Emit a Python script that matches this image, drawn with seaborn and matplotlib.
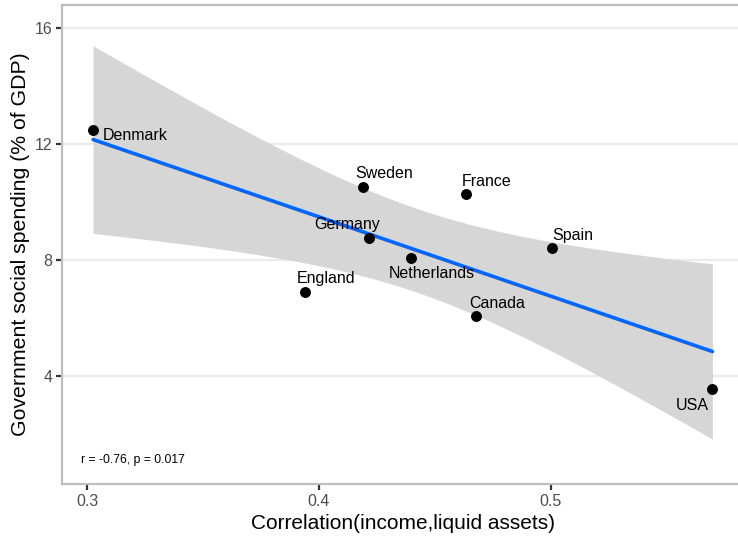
import numpy as np
import pandas as pd
import matplotlib
matplotlib.use("Agg")
import matplotlib.pyplot as plt
import seaborn as sns

# Country-level data
countries = ["Denmark", "Sweden", "France", "Germany", "Netherlands",
             "Spain", "England", "Canada", "USA"]
corr_income_liquid = [0.3026, 0.419, 0.4634, 0.4216, 0.4397,
                      0.5004, 0.394, 0.4677, 0.5698]
social_spending = [12.48, 10.52, 10.28, 8.76, 8.07,
                   8.41, 6.90, 6.07, 3.55]

x_ticks = [0.3, 0.4, 0.5]
y_ticks = [4, 8, 12, 16]
stat_label = "r = -0.76, p = 0.017"

df = pd.DataFrame({"country": countries,
                   "corr": corr_income_liquid,
                   "spend": social_spending})

# label placement (pixel offsets from each point, and alignment)
label_style = {
    "Denmark": (10, -5, "left"),
    "Sweden": (21, 13, "center"),
    "France": (21, 12, "center"),
    "Germany": (-22, 13, "center"),
    "Netherlands": (21, -16, "center"),
    "Spain": (21, 13, "center"),
    "England": (21, 13, "center"),
    "Canada": (21, 12, "center"),
    "USA": (-20, -16, "center"),
}

sns.set_theme(style="white")
plt.rcParams["font.family"] = ["Liberation Sans", "DejaVu Sans"]

fig = plt.figure(figsize=(7.38, 5.37), dpi=100)
ax = fig.add_axes([62 / 738, 53 / 537, 682 / 738, 479 / 537])

# linear fit with 95% confidence band
x = df["corr"].to_numpy()
y = df["spend"].to_numpy()
n = len(x)
slope, intercept = np.polyfit(x, y, 1)
resid = y - (slope * x + intercept)
s = np.sqrt(np.sum(resid ** 2) / (n - 2))
sxx = np.sum((x - x.mean()) ** 2)
t_crit = 2.364624  # t(0.975, df=7)
xg = np.linspace(x.min(), x.max(), 200)
yg = slope * xg + intercept
se = s * np.sqrt(1 / n + (xg - x.mean()) ** 2 / sxx)
ax.fill_between(xg, yg - t_crit * se, yg + t_crit * se,
                color="#D6D6D6", linewidth=0, zorder=1)

sns.regplot(data=df, x="corr", y="spend", ax=ax, ci=None, scatter=False,
            truncate=True, line_kws={"color": "#0066FF", "linewidth": 2.6,
                                     "zorder": 2})
sns.scatterplot(data=df, x="corr", y="spend", ax=ax, color="black",
                s=62, edgecolor="black", linewidth=0, zorder=3)

for c, xv, yv in zip(countries, corr_income_liquid, social_spending):
    dx, dy, ha = label_style[c]
    ax.annotate(c, (xv, yv), xytext=(dx, dy), textcoords="offset pixels",
                ha=ha, va="center", fontsize=11.5, color="black", zorder=4)

ax.text(0.2974, 1.10, stat_label, fontsize=8.8, ha="left", va="center",
        color="black")

ax.set_xlim(0.2892, 0.5834)
ax.set_ylim(0.276, 16.79)
ax.set_xticks(x_ticks)
ax.set_xticklabels([f"{v:g}" for v in x_ticks])
ax.set_yticks(y_ticks)
ax.set_yticklabels([str(v) for v in y_ticks])

ax.yaxis.grid(True, color="#EBEBEB", linewidth=1.6, zorder=0)
ax.xaxis.grid(False)
ax.set_axisbelow(True)

for side in ["left", "top", "bottom"]:
    ax.spines[side].set_color("#BEBEBE")
    ax.spines[side].set_linewidth(1.6)
ax.spines["right"].set_visible(False)

ax.tick_params(axis="both", which="major", length=4, width=1.6,
               color="#333333", labelcolor="#4D4D4D", labelsize=11.5,
               pad=3, bottom=True, left=True)

ax.set_xlabel("Correlation(income,liquid assets)", fontsize=15,
              color="black", labelpad=4)
ax.set_ylabel("Government social spending (% of GDP)", fontsize=15.3,
              color="black", labelpad=3)

fig.savefig("out.png", dpi=100)
